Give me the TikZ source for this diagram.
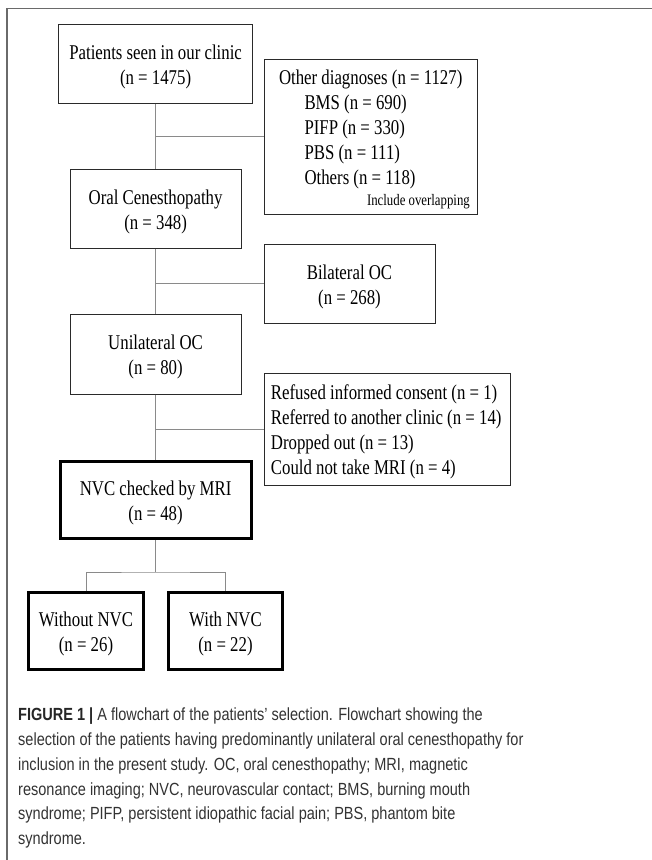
\documentclass[tikz,border=0pt]{standalone}
\usepackage{fontspec}
\setmainfont[FakeStretch=0.8]{Liberation Serif}
\newfontfamily\capfont[FakeStretch=0.825]{Liberation Sans}
\definecolor{framecol}{HTML}{6A6A6A}
\definecolor{boxcol}{HTML}{2A2A2A}
\definecolor{conncol}{HTML}{8A8A8A}
\definecolor{captext}{HTML}{333333}
\begin{document}
\begin{tikzpicture}[x=1pt,y=-1pt,
  box/.style={draw=boxcol, line width=1pt, inner sep=0pt},
  thickbox/.style={box, draw=black, line width=3pt},
  txt/.style={inner sep=0pt, font=\fontsize{21}{25}\selectfont},
  upper/.style={txt, anchor=base, yshift=4.5pt},
  lower/.style={txt, anchor=base, yshift=-20.5pt},
  smalltxt/.style={inner sep=0pt, font=\fontsize{16}{18}\selectfont},
  conn/.style={draw=conncol, line width=0.9pt},
  framel/.style={draw=framecol, line width=1.3pt},
  captionline/.style={inner sep=0pt, anchor=base west, text=captext,
    font=\capfont\fontsize{17.6}{24}\selectfont}]
\useasboundingbox (0,0) rectangle (652,860);
\fill[white] (0,0) rectangle (652,860);
% outer frame
\draw[framel] (7,860) -- (7,8.5) -- (652,8.5);

% main boxes
\node[box, minimum width=194pt, minimum height=79pt] (pat) at (155.6,63.5) {};
\node[upper] (pat1) at (pat.center) {Patients seen in our clinic};
\node[lower] (pat2) at (pat.center) {(n = 1475)};

\node[box, minimum width=171pt, minimum height=79pt] (oc) at (155.6,208.5) {};
\node[upper] (oc1) at (oc.center) {Oral Cenesthopathy};
\node[lower] (oc2) at (oc.center) {(n = 348)};

\node[box, minimum width=171pt, minimum height=80pt] (uni) at (155.6,354) {};
\node[upper] (uni1) at (uni.center) {Unilateral OC};
\node[lower] (uni2) at (uni.center) {(n = 80)};

\node[thickbox, minimum width=191pt, minimum height=77pt] (nvc) at (155.6,500) {};
\node[upper] (nvc1) at (nvc.center) {NVC checked by MRI};
\node[lower] (nvc2) at (nvc.center) {(n = 48)};

\node[thickbox, minimum width=115pt, minimum height=77pt] (wo) at (86,631) {};
\node[upper] (wo1) at (wo.center) {Without NVC};
\node[lower] (wo2) at (wo.center) {(n = 26)};

\node[thickbox, minimum width=114pt, minimum height=77pt] (wi) at (225.5,631) {};
\node[upper] (wi1) at (wi.center) {With NVC};
\node[lower] (wi2) at (wi.center) {(n = 22)};

% side boxes
\node[box, minimum width=213pt, minimum height=155pt] (oth) at (370.5,136.5) {};
\node[txt, anchor=base] (oth1) at (370.7,84.3) {Other diagnoses (n = 1127)};
\node[txt, anchor=base west] (oth2) at (304.3,109.3) {BMS (n = 690)};
\node[txt, anchor=base west] (oth3) at (304.3,134.3) {PIFP (n = 330)};
\node[txt, anchor=base west] (oth4) at (304.3,159.3) {PBS (n = 111)};
\node[txt, anchor=base west] (oth5) at (304.3,184.3) {Others (n = 118)};
\node[smalltxt, anchor=base east] (oth6) at (470,205) {Include overlapping};

\node[box, minimum width=171pt, minimum height=79pt] (bil) at (349.5,283.5) {};
\node[upper] (bil1) at (bil.center) {Bilateral OC};
\node[lower] (bil2) at (bil.center) {(n = 268)};

\node[box, minimum width=246pt, minimum height=112pt] (ref) at (387,429) {};
\node[txt, anchor=base west] (ref1) at (270.7,399) {Refused informed consent (n = 1)};
\node[txt, anchor=base west] (ref2) at (270.7,424) {Referred to another clinic (n = 14)};
\node[txt, anchor=base west] (ref3) at (270.7,449) {Dropped out (n = 13)};
\node[txt, anchor=base west] (ref4) at (270.7,474) {Could not take MRI (n = 4)};

% connectors
\draw[conn] (pat.south) -- (oc.north);
\draw[conn] (pat.south |- oth.west) -- (oth.west);
\draw[conn] (oc.south) -- (uni.north);
\draw[conn] (oc.south |- bil.west) -- (bil.west);
\draw[conn] (uni.south) -- (nvc.north);
\draw[conn] (uni.south |- ref.west) -- (ref.west);
\coordinate (split) at (155.6,572);
\draw[conn] (nvc.south) -- (split);
\draw[conn] (wo.north) |- (split) -| (wi.north);

% caption
\node[captionline] (c1) at (18,720.5) {\textbf{\color{black!85}FIGURE 1 |} A flowchart of the patients’ selection. Flowchart showing the};
\node[captionline] (c2) at (18,745.5) {selection of the patients having predominantly unilateral oral cenesthopathy for};
\node[captionline] (c3) at (18,770.3) {inclusion in the present study. OC, oral cenesthopathy; MRI, magnetic};
\node[captionline] (c4) at (18,795.1) {resonance imaging; NVC, neurovascular contact; BMS, burning mouth};
\node[captionline] (c5) at (18,819.9) {syndrome; PIFP, persistent idiopathic facial pain; PBS, phantom bite};
\node[captionline] (c6) at (18,844.7) {syndrome.};
\end{tikzpicture}
\end{document}
